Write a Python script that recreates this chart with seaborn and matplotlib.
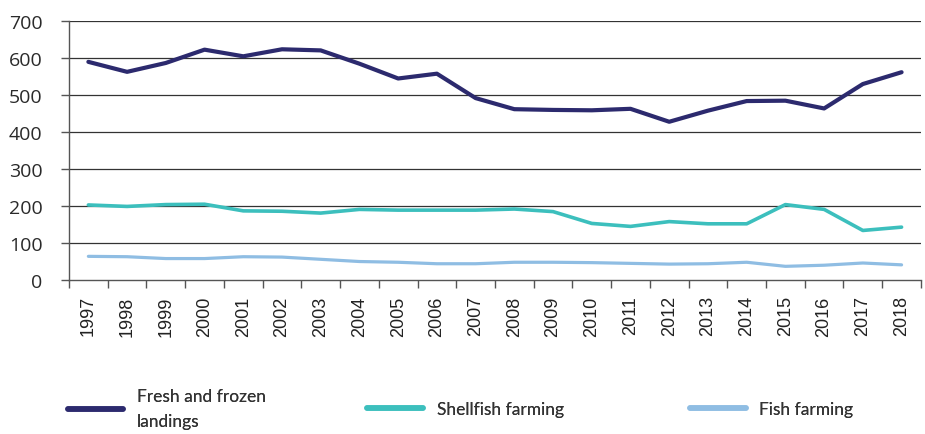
import pandas as pd
import seaborn as sns
import matplotlib.pyplot as plt
from matplotlib.lines import Line2D

years = list(range(1997, 2019))
fresh_frozen = [590, 563, 587, 623, 605, 624, 621, 585, 545, 558, 492,
                462, 460, 459, 463, 428, 458, 484, 485, 464, 530, 562]
shellfish = [203, 199, 204, 205, 187, 186, 181, 191, 189, 189, 189,
             192, 185, 153, 145, 158, 152, 152, 204, 191, 134, 143]
fish = [64, 63, 58, 58, 63, 62, 56, 50, 48, 44, 44,
        48, 48, 47, 45, 43, 44, 48, 37, 40, 46, 41]

series = ['Fresh and frozen\nlandings', 'Shellfish farming', 'Fish farming']
colors = ['#2c2a6e', '#3cbfbd', '#8fbde3']
widths = [3.0, 2.6, 2.3]

df = pd.DataFrame({
    'year': years * 3,
    'value': fresh_frozen + shellfish + fish,
    'series': [series[0]] * 22 + [series[1]] * 22 + [series[2]] * 22,
})

sns.set_style('white')
plt.rcParams['font.family'] = ['Open Sans', 'DejaVu Sans']

fig = plt.figure(figsize=(9.25, 4.35), dpi=100)
ax = fig.add_axes([0.0746, 0.354, 0.921, 0.595])

for s, c, w in zip(series, colors, widths):
    sns.lineplot(data=df[df['series'] == s], x='year', y='value', color=c,
                 linewidth=w, ax=ax, legend=False)

ax.set_xlim(1996.5, 2018.5)
ax.set_ylim(0, 700)
ax.set_yticks(range(0, 701, 100))
ax.set_yticklabels([str(v) for v in range(0, 701, 100)], fontsize=14, color='#2a2a2a')
ax.set_xticks(years)
ax.set_xticklabels([str(y) for y in years], rotation=90, fontsize=13,
                   color='#222222', family='Liberation Sans')
ax.set_xticks([y + 0.5 for y in [1996] + years], minor=True)
ax.tick_params(axis='x', which='major', length=0, pad=11)
ax.tick_params(axis='x', which='minor', length=6, color='#555555', width=1, bottom=True)
ax.tick_params(axis='y', length=6, color='#555555', width=1, left=True, pad=13)
ax.set_xlabel('')
ax.set_ylabel('')

for v in range(100, 701, 100):
    ax.axhline(v, color='#333333', linewidth=0.9, zorder=0)

for side in ['top', 'right']:
    ax.spines[side].set_visible(False)
ax.spines['left'].set_color('#555555')
ax.spines['bottom'].set_color('#555555')
ax.spines['left'].set_linewidth(1)
ax.spines['bottom'].set_linewidth(1)

# three separate legend entries along the bottom
xpos = [0.073, 0.397, 0.746]
for s, c, w, x in zip(series, colors, widths, xpos):
    h = Line2D([0], [0], color=c, linewidth=4)
    leg = fig.legend([h], [s], loc='center left', bbox_to_anchor=(x, 0.058),
                     frameon=False, handlelength=3.2,
                     handletextpad=0.8, borderaxespad=0, borderpad=0,
                     prop={'family': 'Lato', 'size': 12.5})
    for t in leg.get_texts():
        t.set_linespacing(1.7)
        t.set_color('#333333')
    fig.add_artist(leg)

fig.savefig('out.png', dpi=100)
